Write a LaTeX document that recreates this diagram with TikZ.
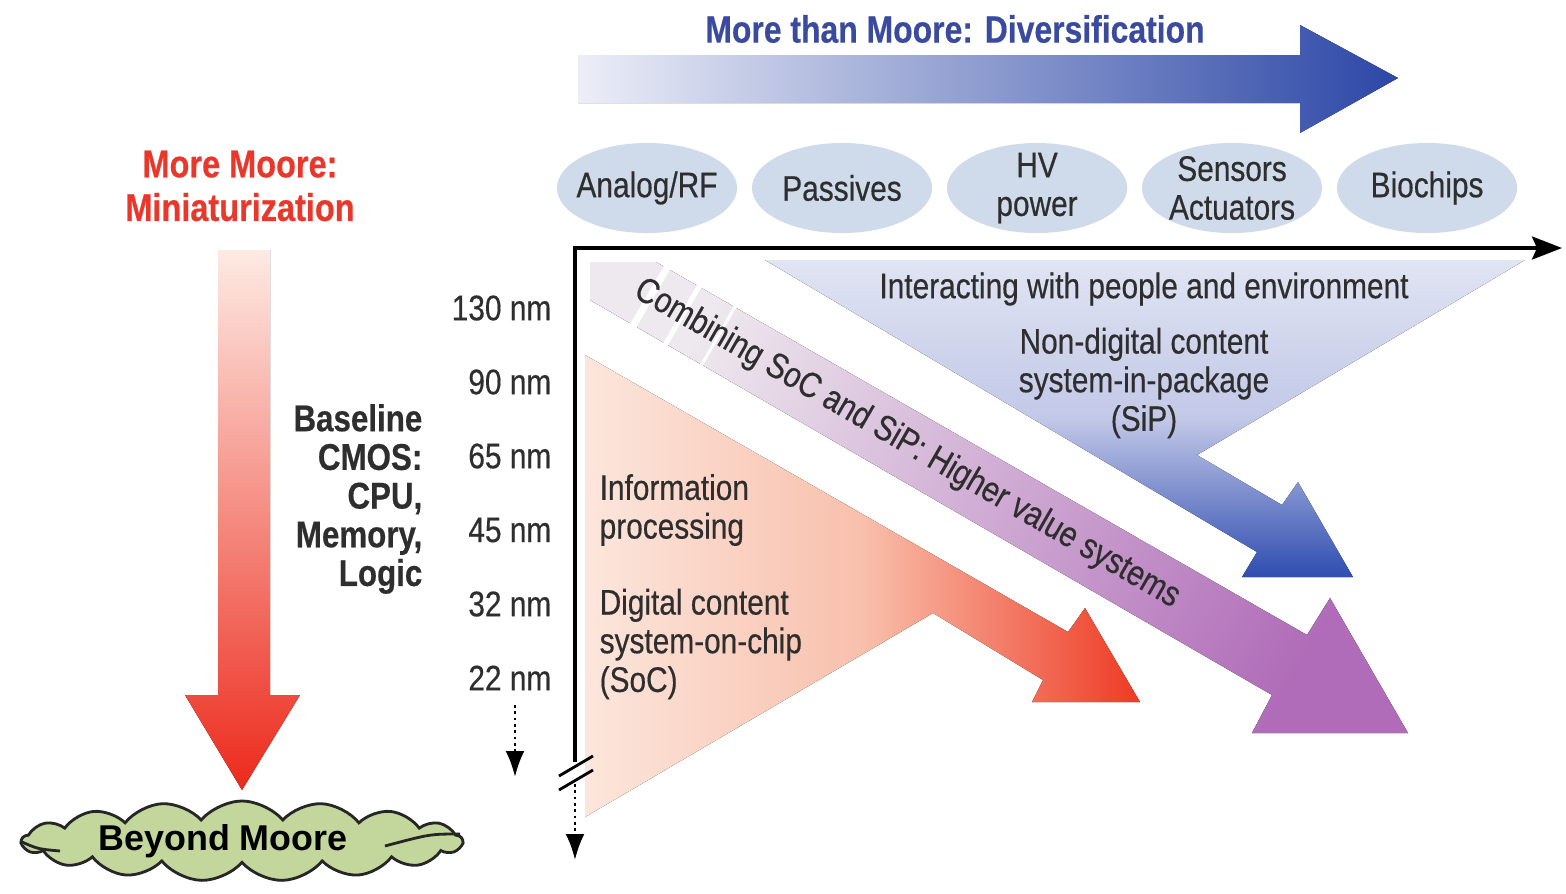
\documentclass[tikz,border=0pt]{standalone}
\usepackage{fontspec}
\setmainfont{Liberation Sans}[FakeStretch=0.84,FakeBold=0.4]
\newfontfamily\plainsans{Liberation Sans}
\usetikzlibrary{positioning,shapes.geometric,shapes.symbols,arrows.meta}

\definecolor{textgrey}{HTML}{2E2E2E}
\definecolor{titleblue}{HTML}{3A4A9E}
\definecolor{moorered}{HTML}{E8372B}
\definecolor{bubble}{HTML}{CFDBEA}
\definecolor{cloudgreen}{HTML}{C3D69B}
\definecolor{divlight}{HTML}{ECEEF7}
\definecolor{divdark}{HTML}{2C47A6}
\definecolor{minilight}{HTML}{FDEAE3}
\definecolor{minidark}{HTML}{EC2A1C}
\definecolor{soclight}{HTML}{FCE6DC}
\definecolor{socmid}{HTML}{F8C0AC}
\definecolor{socdark}{HTML}{EE3A24}
\definecolor{siplight}{HTML}{E0E4F3}
\definecolor{sipmid}{HTML}{C2C8E7}
\definecolor{sipdark}{HTML}{2F4DB0}
\definecolor{mixlight}{HTML}{EEE9EE}
\definecolor{mixdark}{HTML}{B06CB8}

\begin{document}
\begin{tikzpicture}[x=0.01cm,y=-0.01cm]
  \tikzstyle{every node}=[text=textgrey,inner sep=0pt,font=\fontsize{10.1}{11}\selectfont]
  \tikzstyle{tech}=[ellipse,fill=bubble,minimum width=1.8cm,minimum height=0.9cm,
                    inner xsep=-0.09cm,inner ysep=-0.12cm,align=center]
  \tikzstyle{heading}=[font=\bfseries\fontsize{11}{12.4}\selectfont,align=center]
  \tikzstyle{size}=[anchor=east]
  \tikzstyle{axis}=[line width=0.9pt,black]
  \tikzstyle{dotarrow}=[line width=0.8pt,densely dotted,-{Latex[length=2.6mm,width=1.9mm]}]

  \fill[white,use as bounding box] (0,0) rectangle (1566,893);

  % diversification arrow along the top
  \fill[left color=divlight,right color=divdark]
    (578,55) -- (1300,55) -- (1300,25) -- (1398,78) -- (1300,133) -- (1300,103) -- (578,103) -- cycle;
  \node[heading,text=titleblue,font=\bfseries\fontsize{10.8}{12}\selectfont] (title) at (955,29)
    {More than Moore: Diversification};

  % miniaturization arrow on the left
  \fill[top color=minilight,bottom color=minidark]
    (218,250) -- (270,250) -- (270,695) -- (300,695) -- (242,790) -- (185,695) -- (218,695) -- cycle;
  \node[heading,text=moorered] (more) at (240,186) {More Moore:\\Miniaturization};

  % non-digital wedge (SiP)
  \fill[top color=siplight,bottom color=sipdark,middle color=sipmid]
    (765,260) -- (1525,260) -- (1197,455) -- (1282,505) -- (1298,482)
    -- (1353,577) -- (1242,577) -- (1257,552) -- cycle;

  % digital wedge (SoC)
  \fill[left color=soclight,right color=socdark,middle color=socmid]
    (585,355) -- (1068,632) -- (1085,608) -- (1140,702) -- (1032,702)
    -- (1043,680) -- (933,613) -- (585,817) -- cycle;

  % combined band
  \fill[left color=mixlight,right color=mixdark,shading angle=60]
    (590,262) -- (656,262) -- (1307,635) -- (1330,598) -- (1408,733)
    -- (1252,733) -- (1272,695) -- (590,300) -- cycle;
  \draw[white,line width=0.7mm] (668,266) -- (633,326);
  \draw[white,line width=0.5mm] (700,285) -- (665,345);
  \draw[white,line width=0.3mm] (736,305) -- (701,366);

  % technology bubbles
  \node[tech] (analog) at (647,188) {Analog/RF};
  \node[tech] (passives) [right=0.135cm of analog] {Passives};
  \node[tech] (hv) [right=0.135cm of passives] {HV\\power};
  \node[tech] (sensors) [right=0.135cm of hv] {Sensors\\Actuators};
  \node[tech] (biochips) [right=0.135cm of sensors] {Biochips};

  % texts inside the wedges
  \node (people) at (1144,289) {Interacting with people and environment};
  \node[align=center] (sip) at (1144,383) {Non-digital content\\system-in-package\\(SiP)};
  \node[align=left,anchor=west] (info) at (599,510) {Information\\processing};
  \node[align=left,anchor=west] (soc) at (599,644) {Digital content\\system-on-chip\\(SoC)};
  \node[rotate=-30] (combine) at (907,444) {Combining SoC and SiP: Higher value systems};

  % technology nodes
  \node[size] (n130) at (552,308) {130 nm};
  \node[size] (n90) at (552,382) {90 nm};
  \node[size] (n65) at (552,456) {65 nm};
  \node[size] (n45) at (552,530) {45 nm};
  \node[size] (n32) at (552,604) {32 nm};
  \node[size] (n22) at (552,678) {22 nm};
  \node[font=\bfseries\fontsize{10.6}{11}\selectfont,align=right,anchor=east] (cmos) at (423,499)
    {Baseline\\CMOS:\\CPU,\\Memory,\\Logic};

  % axes
  \coordinate (origin) at (575,248);
  \coordinate (xend) at (1562,248);
  \coordinate (cut) at (575,762);
  \coordinate (resume) at (575,784);
  \coordinate (yend) at (575,860);
  \coordinate (more top) at (515,705);
  \coordinate (more end) at (515,777);
  \draw[axis,-{Stealth[length=3mm,width=2.3mm,inset=0.5mm]}] (cut) -- (origin) -- (xend);
  \draw[line width=0.8pt] (559,776) -- (593,756);
  \draw[line width=0.8pt] (559,790) -- (593,770);
  \draw[dotarrow] (resume) -- (yend);
  \draw[dotarrow] (more top) -- (more end);

  % beyond
  \node[cloud,cloud puffs=17,cloud puff arc=100,cloud ignores aspect,
        minimum width=4.4cm,minimum height=0.8cm,draw=black!85,line width=0.8pt,
        fill=cloudgreen] (beyond) at (242,841) {};
  \draw[black!85,line width=0.8pt] (22,842) .. controls (38,849) .. (60,851);
  \draw[black!85,line width=0.8pt] (460,834) .. controls (430,834) .. (385,846);
  \node[text=black,font=\plainsans\bfseries\fontsize{10.2}{12}\selectfont] (beyond text) at (223,841)
    {Beyond Moore};

\end{tikzpicture}
\end{document}
